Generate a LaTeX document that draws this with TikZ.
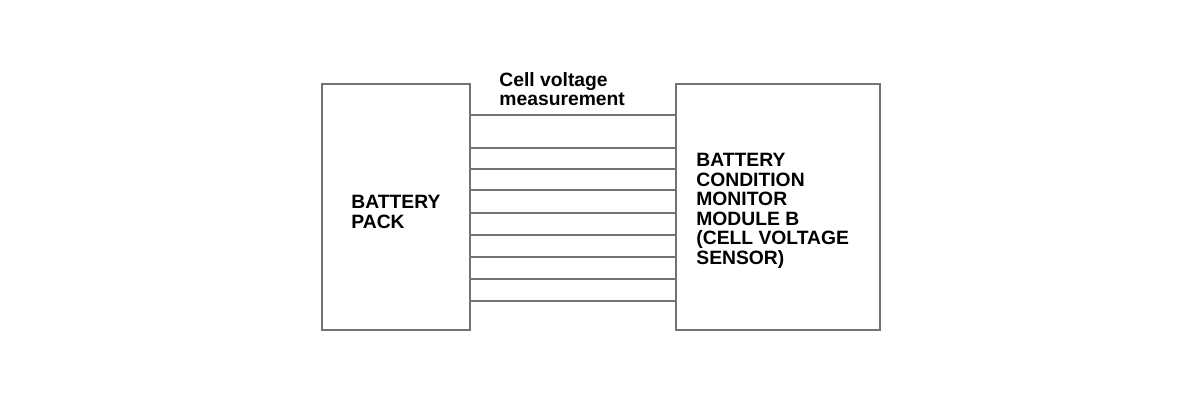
\documentclass[tikz,border=0pt]{standalone}
\usepackage{fontspec}
\setmainfont{Liberation Sans}
\usetikzlibrary{positioning,calc}

\begin{document}
\begin{tikzpicture}[x=0.5pt,y=-0.5pt,
  box/.style={draw=black!55, line width=1pt, minimum height=123pt, inner sep=0pt, anchor=north west},
  wire/.style={draw=black!55, line width=1pt},
  label/.style={font=\fontsize{9.65}{9.75}\selectfont\bfseries, align=left, inner sep=0pt, anchor=north west}]
\useasboundingbox (0,0) rectangle (1200,414);
% the two blocks
\node [box, minimum width=74pt] (pack) at (321,83) {};
\node [box, minimum width=102pt] (bcm) at (675,83) {};
\node [label] (packtext) at (351,195) {BATTERY\\PACK};
\node [label] (bcmtext) at (696,153) {BATTERY\\CONDITION\\MONITOR\\MODULE B\\(CELL VOLTAGE\\SENSOR)};
% measurement lines
\node [label] (meas) at (499,72) {Cell voltage\\measurement};
\foreach \y in {115,148,169,190,213,235,257,279,301}
{
  \coordinate (w) at (0,\y);
  \draw [wire] (pack.east |- w) -- (bcm.west |- w);
}
\end{tikzpicture}
\end{document}
